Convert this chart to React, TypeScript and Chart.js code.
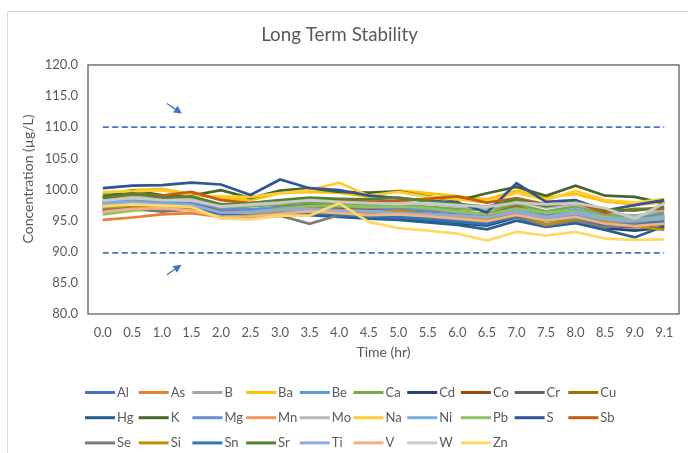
import React, { useEffect, useRef } from "react";
import { Chart, registerables } from "chart.js";

Chart.register(...registerables);

const TITLE = "Long Term Stability";
const X_TITLE = "Time (hr)";
const Y_TITLE = "Concentration (µg/L)";

const categories = ["0.0", "0.5", "1.0", "1.5", "2.0", "2.5", "3.0", "3.5", "4.0", "4.5", "5.0", "5.5", "6.0", "6.5", "7.0", "7.5", "8.0", "8.5", "9.0", "9.1"];

const elements = ["Al", "As", "B", "Ba", "Be", "Ca", "Cd", "Co", "Cr", "Cu", "Hg", "K", "Mg", "Mn", "Mo", "Na", "Ni", "Pb", "S", "Sb", "Se", "Si", "Sn", "Sr", "Ti", "V", "W", "Zn"];

const colors = ["#4472C4", "#ED7D31", "#A5A5A5", "#FFC000", "#5B9BD5", "#70AD47", "#264478", "#9E480E", "#636363", "#997300", "#255E91", "#43682B", "#698ED0", "#F1975A", "#B7B7B7", "#FFCD33", "#7CAFDD", "#8CC168", "#2F5597", "#C55A11", "#7B7B7B", "#BF9000", "#2E75B6", "#548235", "#8FAADC", "#F4B183", "#C9C9C9", "#FFD966"];

const Al = [98.0, 98.3, 98.1, 98.0, 96.6, 96.5, 96.9, 97.2, 97.0, 96.7, 96.8, 96.3, 96.0, 95.6, 96.9, 95.8, 96.5, 95.5, 95.3, 95.8];
const As = [95.1, 95.5, 96.0, 96.2, 95.6, 95.7, 96.0, 96.3, 96.1, 95.8, 96.4, 95.9, 95.5, 95.2, 96.6, 95.4, 96.2, 95.0, 94.6, 95.3];
const B = [96.9, 97.1, 96.6, 97.0, 95.8, 95.9, 96.4, 96.8, 96.6, 96.2, 96.1, 95.8, 95.4, 95.1, 96.2, 95.0, 95.8, 94.8, 94.5, 95.1];
const Ba = [99.3, 99.9, 100.1, 99.2, 98.6, 98.3, 99.4, 99.6, 99.5, 98.8, 99.8, 99.4, 98.9, 98.4, 99.8, 98.7, 99.3, 98.1, 97.6, 97.9];
const Be = [97.9, 98.4, 98.0, 97.7, 96.2, 96.0, 96.5, 96.8, 96.7, 96.4, 96.2, 96.0, 95.6, 95.2, 96.1, 95.3, 95.9, 95.0, 94.6, 95.0];
const Ca = [99.2, 98.7, 98.6, 98.5, 97.1, 97.3, 97.6, 97.9, 97.7, 97.5, 97.6, 97.2, 96.9, 96.7, 97.6, 96.5, 97.3, 96.1, 95.8, 96.3];
const Cd = [97.3, 97.5, 97.2, 97.1, 95.9, 95.7, 96.2, 96.1, 95.9, 95.6, 95.4, 95.0, 94.6, 94.2, 95.5, 94.2, 94.9, 93.8, 93.4, 93.9];
const Co = [96.7, 97.3, 97.0, 97.3, 96.4, 96.5, 96.8, 97.2, 97.0, 96.6, 96.8, 96.4, 96.1, 95.8, 96.9, 95.9, 96.6, 95.5, 95.2, 95.6];
const Cr = [96.5, 96.9, 96.5, 96.9, 95.5, 95.6, 95.9, 96.0, 95.8, 95.5, 95.6, 95.2, 94.9, 94.5, 95.7, 94.3, 95.1, 94.2, 93.9, 94.4];
const Cu = [97.5, 97.8, 97.6, 97.4, 96.6, 96.7, 97.2, 97.5, 97.3, 97.0, 97.2, 96.8, 96.4, 96.1, 97.3, 95.7, 96.7, 95.6, 95.3, 94.3];
const Hg = [96.6, 97.0, 96.9, 96.8, 95.7, 95.4, 95.8, 95.9, 95.6, 95.3, 95.1, 94.7, 94.3, 93.6, 95.0, 94.0, 94.6, 93.5, 92.3, 94.1];
const K = [98.8, 99.8, 99.1, 99.0, 99.9, 98.6, 99.8, 100.2, 99.6, 99.5, 99.7, 98.9, 98.2, 99.4, 100.4, 99.0, 100.6, 99.0, 98.8, 97.8];
const Mg = [98.1, 98.6, 98.3, 98.2, 96.9, 96.8, 97.1, 97.4, 97.3, 97.1, 96.9, 96.6, 96.3, 96.0, 97.0, 96.1, 96.8, 95.7, 95.4, 96.0];
const Mn = [96.2, 96.8, 96.8, 97.1, 96.0, 96.1, 96.5, 96.7, 96.5, 96.0, 96.3, 96.1, 95.8, 95.5, 96.4, 95.5, 96.2, 95.1, 94.9, 95.7];
const Mo = [98.4, 98.9, 98.6, 98.4, 97.2, 97.5, 97.8, 98.5, 98.1, 97.9, 98.0, 97.7, 97.3, 96.9, 98.1, 97.1, 97.6, 96.5, 95.6, 96.8];
const Na = [99.6, 99.7, 99.9, 99.0, 98.9, 98.8, 99.4, 99.9, 101.1, 99.0, 99.6, 98.8, 98.4, 97.9, 99.5, 98.3, 99.8, 98.3, 97.9, 98.5];
const Ni = [97.8, 98.0, 97.7, 97.5, 96.3, 96.2, 96.6, 96.9, 96.7, 96.5, 96.4, 96.1, 95.8, 95.4, 96.4, 95.5, 96.2, 95.2, 94.9, 95.3];
const Pb = [96.0, 96.6, 96.9, 97.0, 96.0, 96.3, 96.9, 97.3, 97.4, 97.2, 97.3, 97.0, 96.4, 96.0, 96.9, 96.3, 96.6, 95.6, 95.2, 95.6];
const S = [100.2, 100.6, 100.7, 101.1, 100.8, 99.1, 101.6, 100.2, 99.9, 99.0, 98.6, 98.2, 97.9, 96.3, 101.0, 98.0, 98.3, 96.6, 97.5, 98.3];
const Sb = [98.6, 99.2, 99.0, 99.6, 98.3, 97.8, 98.2, 98.4, 98.3, 98.0, 98.2, 98.5, 98.9, 97.9, 98.6, 97.6, 97.9, 96.3, 96.9, 96.9];
const Se = [96.8, 97.1, 96.5, 96.8, 95.6, 95.5, 95.8, 94.5, 95.9, 96.0, 95.6, 95.4, 95.0, 94.6, 95.6, 94.2, 95.0, 93.9, 94.5, 94.6];
const Si = [97.1, 97.4, 97.3, 97.0, 95.9, 95.8, 96.3, 96.9, 96.6, 96.2, 96.6, 96.0, 95.5, 95.1, 96.0, 94.4, 95.3, 94.7, 94.1, 93.5];
const Sn = [97.6, 97.8, 97.5, 97.3, 96.0, 95.7, 96.1, 96.2, 96.0, 95.6, 95.5, 95.2, 94.8, 94.4, 95.8, 94.9, 95.5, 94.4, 94.2, 94.8];
const Sr = [98.6, 99.4, 98.7, 98.9, 97.6, 97.8, 98.3, 98.7, 98.5, 98.4, 98.7, 98.1, 97.7, 97.2, 98.4, 97.3, 98.0, 96.8, 96.6, 97.2];
const Ti = [97.6, 97.9, 97.6, 97.5, 96.3, 96.4, 96.7, 96.8, 96.6, 96.5, 96.2, 96.0, 95.8, 95.5, 96.5, 95.6, 96.3, 95.3, 94.9, 95.4];
const V = [96.4, 96.9, 97.0, 96.6, 95.6, 95.7, 96.1, 96.5, 96.2, 95.9, 96.0, 95.7, 95.3, 94.9, 95.9, 95.0, 95.6, 94.5, 94.1, 94.5];
const W = [98.2, 98.6, 98.3, 98.2, 97.3, 97.6, 97.9, 98.3, 98.0, 97.8, 97.7, 97.8, 97.5, 97.2, 97.9, 97.6, 97.8, 97.0, 95.3, 97.8];
const Zn = [97.3, 97.6, 97.4, 97.2, 95.3, 95.2, 95.8, 95.8, 97.8, 94.8, 93.8, 93.4, 92.9, 91.8, 93.2, 92.6, 93.2, 92.1, 91.9, 92.0];

const seriesValues = [Al, As, B, Ba, Be, Ca, Cd, Co, Cr, Cu, Hg, K, Mg, Mn, Mo, Na, Ni, Pb, S, Sb, Se, Si, Sn, Sr, Ti, V, W, Zn];

const upperLimit = [110, 110, 110, 110, 110, 110, 110, 110, 110, 110, 110, 110, 110, 110, 110, 110, 110, 110, 110, 110];
const lowerLimit = [89.8, 89.8, 89.8, 89.8, 89.8, 89.8, 89.8, 89.8, 89.8, 89.8, 89.8, 89.8, 89.8, 89.8, 89.8, 89.8, 89.8, 89.8, 89.8, 89.8];

// arrow annotations in data space: [xIndexFrom, yFrom, xIndexTo, yTo]
const arrows = [
  [2.17, 113.8, 2.68, 112.2],
  [2.17, 86.3, 2.66, 87.9],
];

const FONT = "Lato, 'Open Sans', sans-serif";
const TEXT = "#595959";
const LIMIT_COLOR = "#4472C4";

const framePlugin = {
  id: "frame",
  beforeDraw(chart: any) {
    const ctx = chart.ctx;
    ctx.save();
    ctx.fillStyle = "#ffffff";
    ctx.fillRect(0, 0, chart.width, chart.height);
    ctx.strokeStyle = "#D9D9D9";
    ctx.lineWidth = 1;
    ctx.beginPath();
    ctx.moveTo(7.5, chart.height);
    ctx.lineTo(7.5, 11.5);
    ctx.lineTo(chart.width, 11.5);
    ctx.stroke();
    ctx.restore();
  },
  afterDraw(chart: any) {
    const ctx = chart.ctx;
    const a = chart.chartArea;
    ctx.save();
    ctx.strokeStyle = "#595959";
    ctx.lineWidth = 1.25;
    ctx.strokeRect(a.left, a.top, a.right - a.left, a.bottom - a.top);
    // y-axis title
    ctx.save();
    ctx.translate(28, 179);
    ctx.rotate(-Math.PI / 2);
    ctx.font = "14px " + FONT;
    ctx.fillStyle = TEXT;
    ctx.textAlign = "center";
    ctx.textBaseline = "middle";
    ctx.fillText(Y_TITLE, 0, 0);
    ctx.restore();
    // arrows
    const xs = chart.scales.x;
    const ys = chart.scales.y;
    ctx.strokeStyle = LIMIT_COLOR;
    ctx.fillStyle = LIMIT_COLOR;
    ctx.lineWidth = 1.25;
    for (const [x0, y0, x1, y1] of arrows) {
      const px0 = xs.getPixelForValue(x0);
      const py0 = ys.getPixelForValue(y0);
      const px1 = xs.getPixelForValue(x1);
      const py1 = ys.getPixelForValue(y1);
      const ang = Math.atan2(py1 - py0, px1 - px0);
      const hl = 8;
      const hw = 4;
      const bx = px1 - hl * Math.cos(ang);
      const by = py1 - hl * Math.sin(ang);
      ctx.beginPath();
      ctx.moveTo(px0, py0);
      ctx.lineTo(bx, by);
      ctx.stroke();
      ctx.beginPath();
      ctx.moveTo(px1, py1);
      ctx.lineTo(bx + hw * Math.sin(ang), by - hw * Math.cos(ang));
      ctx.lineTo(bx - hw * Math.sin(ang), by + hw * Math.cos(ang));
      ctx.closePath();
      ctx.fill();
    }
    // legend
    ctx.font = "13px " + FONT;
    ctx.textBaseline = "middle";
    ctx.textAlign = "left";
    ctx.lineWidth = 3;
    elements.forEach((name, i) => {
      const col = i % 10;
      const row = Math.floor(i / 10);
      const x = 85 + col * 53.7;
      const y = 392.5 + row * 25.2;
      ctx.strokeStyle = colors[i];
      ctx.beginPath();
      ctx.moveTo(x, y);
      ctx.lineTo(x + 30, y);
      ctx.stroke();
      ctx.fillStyle = TEXT;
      ctx.fillText(name, x + 32, y);
    });
    ctx.restore();
  },
};

export default function App() {
  const ref = useRef<HTMLCanvasElement | null>(null);

  useEffect(() => {
    if (!ref.current) return;
    const n = elements.length;
    const datasets: any[] = elements.map((name, i) => ({
      label: name,
      data: seriesValues[i],
      borderColor: colors[i],
      backgroundColor: colors[i],
      borderWidth: 2.75,
      pointRadius: 0,
      fill: false,
      tension: 0,
      order: n + 2 - i,
    }));
    datasets.push({
      label: "Upper",
      data: upperLimit,
      borderColor: LIMIT_COLOR,
      borderWidth: 1.75,
      borderDash: [6, 3.5],
      pointRadius: 0,
      fill: false,
      order: 1,
    });
    datasets.push({
      label: "Lower",
      data: lowerLimit,
      borderColor: LIMIT_COLOR,
      borderWidth: 1.75,
      borderDash: [6, 3.5],
      pointRadius: 0,
      fill: false,
      order: 0,
    });

    const chart = new Chart(ref.current, {
      type: "line",
      data: { labels: categories, datasets },
      options: {
        responsive: false,
        animation: false,
        layout: { padding: { left: 0, right: 9, top: 0, bottom: 89 } },
        plugins: {
          legend: { display: false },
          tooltip: { enabled: false },
          title: {
            display: true,
            text: TITLE,
            color: TEXT,
            font: { family: FONT, size: 18.8, weight: "normal" },
            padding: { top: 24, bottom: 18.4 },
          },
        },
        scales: {
          x: {
            offset: true,
            grid: { display: false, drawTicks: false },
            border: { display: false },
            ticks: { color: TEXT, font: { family: FONT, size: 13 }, padding: 11, maxRotation: 0, autoSkip: false },
            title: { display: true, text: X_TITLE, color: TEXT, font: { family: FONT, size: 14 }, padding: { top: 0, bottom: 3 } },
            afterFit: (s: any) => { s.height = 50; },
          },
          y: {
            min: 80,
            max: 120,
            grid: { display: false, drawTicks: false },
            border: { display: false },
            ticks: {
              stepSize: 5,
              color: TEXT,
              font: { family: FONT, size: 13 },
              padding: 10,
              callback: (v: any) => Number(v).toFixed(1),
            },
            title: { display: false },
            afterFit: (s: any) => { s.width = 88; },
          },
        },
      },
      plugins: [framePlugin],
    });
    return () => chart.destroy();
  }, []);

  return (
    <div style={{ position: "fixed", left: 0, top: 0, width: 688, height: 453, background: "#fff" }}>
      <canvas ref={ref} width={688} height={453} style={{ width: 688, height: 453, display: "block" }} />
    </div>
  );
}
